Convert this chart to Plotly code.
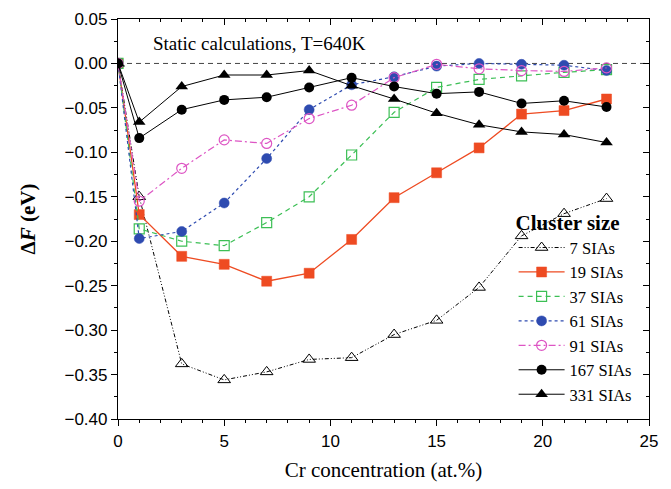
import plotly.graph_objects as go

cr = [0, 1, 3, 5, 7, 9, 11, 13, 15, 17, 19, 21, 23]

sia7 = [0, -0.150, -0.338, -0.356, -0.347, -0.333, -0.331, -0.305, -0.289, -0.252, -0.194, -0.169, -0.152]
sia19 = [0, -0.170, -0.217, -0.226, -0.245, -0.236, -0.198, -0.151, -0.123, -0.095, -0.057, -0.053, -0.040]
sia37 = [0, -0.186, -0.200, -0.205, -0.179, -0.150, -0.103, -0.055, -0.027, -0.018, -0.014, -0.010, -0.007]
sia61 = [0, -0.197, -0.189, -0.157, -0.107, -0.052, -0.024, -0.015, -0.003, 0.000, -0.001, -0.002, -0.008]
sia91 = [0, -0.155, -0.118, -0.086, -0.090, -0.062, -0.047, -0.016, -0.001, -0.006, -0.008, -0.009, -0.005]
sia167 = [0, -0.084, -0.052, -0.041, -0.038, -0.027, -0.016, -0.026, -0.034, -0.032, -0.045, -0.042, -0.049]
sia331 = [0, -0.066, -0.026, -0.013, -0.013, -0.008, -0.025, -0.040, -0.056, -0.069, -0.077, -0.080, -0.089]

names = ["7 SIAs", "19 SIAs", "37 SIAs", "61 SIAs", "91 SIAs", "167 SIAs", "331 SIAs"]

serif = "Liberation Serif, Times New Roman, serif"
sans = "Liberation Sans, Arial, sans-serif"

styles = [
    (sia7, dict(color="black", width=1, dash="4px,2px,1px,2px,1px,2px"),
     dict(symbol="triangle-up-open", size=11, color="black", line=dict(width=1, color="black"))),
    (sia19, dict(color="#EE4B22", width=1.3, dash="solid"),
     dict(symbol="square", size=10, color="#EE4B22", line=dict(width=0.5, color="#EE4B22"))),
    (sia37, dict(color="#3CBF55", width=1.2, dash="5px,4px"),
     dict(symbol="square-open", size=10, color="#3CBF55", line=dict(width=1.2, color="#3CBF55"))),
    (sia61, dict(color="#2E4BB0", width=1.2, dash="dot"),
     dict(symbol="circle", size=10, color="#2E4BB0", line=dict(width=0.5, color="#2E4BB0"))),
    (sia91, dict(color="#DD55C4", width=1.2, dash="7px,3px,2px,3px"),
     dict(symbol="circle-open", size=10, color="#DD55C4", line=dict(width=1.2, color="#DD55C4"))),
    (sia167, dict(color="black", width=1, dash="solid"),
     dict(symbol="circle", size=10, color="black")),
    (sia331, dict(color="black", width=1, dash="solid"),
     dict(symbol="triangle-up", size=11, color="black")),
]

fig = go.Figure()

for name, (vals, line, marker) in zip(names, styles):
    fig.add_trace(go.Scatter(x=cr, y=vals, mode="lines+markers", name=name,
                             line=line, marker=marker))

# invisible trace to anchor the mirrored tick axes
fig.add_trace(go.Scatter(x=[0], y=[0], xaxis="x2", yaxis="y2", mode="markers",
                         marker=dict(opacity=0), showlegend=False, hoverinfo="skip"))

fig.add_shape(type="line", x0=0, x1=25, y0=0, y1=0, xref="x", yref="y",
              line=dict(color="#444", width=1, dash="5px,4px"), layer="below")

fig.add_annotation(text="Static calculations, T=640K", xref="paper", yref="paper",
                   x=0.062, y=0.94, xanchor="left", yanchor="middle", showarrow=False,
                   font=dict(family=serif, size=19, color="black"))

axis_common = dict(showgrid=False, zeroline=False, linecolor="black", linewidth=1.2,
                   tickcolor="black", tickwidth=1, automargin=False)

fig.update_layout(
    width=671, height=489,
    margin=dict(l=110, r=30, t=11, b=78),
    plot_bgcolor="white", paper_bgcolor="white",
    xaxis=dict(range=[0, 25], tickvals=[0, 5, 10, 15, 20, 25], ticks="outside", ticklen=6,
               showline=True, mirror=True,
               minor=dict(dtick=1, ticks="outside", ticklen=3, tickcolor="black"),
               tickfont=dict(family=sans, size=17, color="black"),
               title=dict(text="Cr concentration (at.%)", font=dict(family=serif, size=21, color="black"),
                          standoff=12),
               **axis_common),
    yaxis=dict(range=[-0.40, 0.05], dtick=0.05, tick0=0, tickformat=".2f", ticks="outside", ticklen=6,
               showline=True, mirror=True,
               minor=dict(dtick=0.025, ticks="outside", ticklen=3, tickcolor="black"),
               tickfont=dict(family=sans, size=17, color="black"),
               title=dict(text="<b>Δ<i>F</i> (eV)</b>", font=dict(family=serif, size=21, color="black"),
                          standoff=23),
               **axis_common),
    xaxis2=dict(range=[0, 25], overlaying="x", side="top", anchor="y", tickvals=[0, 5, 10, 15, 20, 25],
                ticks="inside", ticklen=6, showticklabels=False, showline=False, automargin=False,
                minor=dict(dtick=1, ticks="inside", ticklen=3, tickcolor="black"),
                showgrid=False, zeroline=False, tickcolor="black"),
    yaxis2=dict(range=[-0.40, 0.05], overlaying="y", side="right", anchor="x", dtick=0.05, tick0=0,
                ticks="inside", ticklen=6, showticklabels=False, showline=False, automargin=False,
                minor=dict(dtick=0.025, ticks="inside", ticklen=3, tickcolor="black"),
                showgrid=False, zeroline=False, tickcolor="black"),
    legend=dict(x=0.745, y=0.54, xanchor="left", yanchor="top",
                bgcolor="rgba(0,0,0,0)", borderwidth=0, tracegroupgap=0,
                font=dict(family=serif, size=16.5, color="black"),
                title=dict(text="<b>Cluster size</b>", font=dict(family=serif, size=21, color="black")),
                itemwidth=46),
    showlegend=True,
)

fig.write_html("out.html")
